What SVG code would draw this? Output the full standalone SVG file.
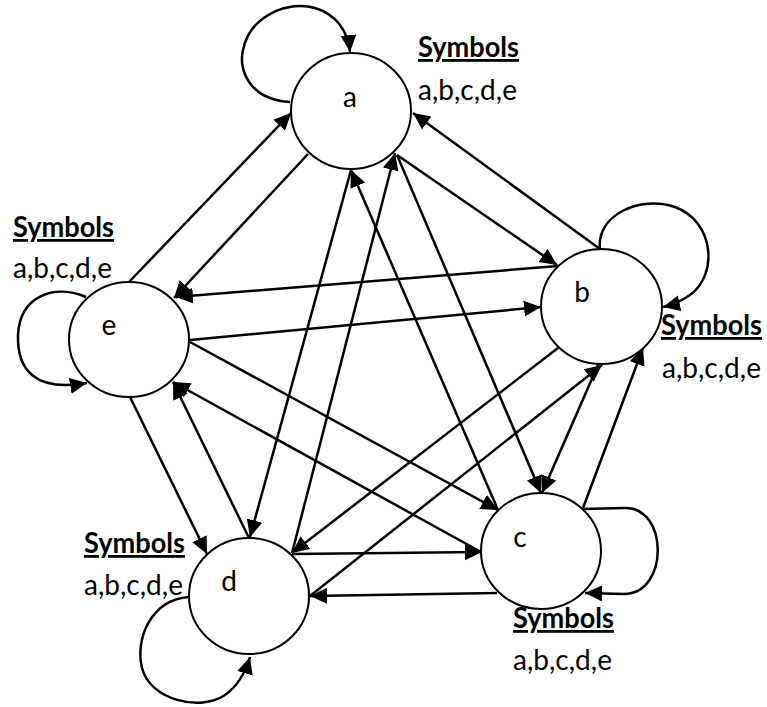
<svg xmlns="http://www.w3.org/2000/svg" width="767" height="707" viewBox="0 0 767 707">
<style>
.node{fill:#fff;stroke:#000;stroke-width:2}
.lbl{font-family:Lato,"Liberation Sans",sans-serif;font-size:28px;fill:#000;text-anchor:middle}
.sym{font-family:Lato,"Liberation Sans",sans-serif;font-size:28px;font-weight:bold;fill:#000;text-decoration:underline}
.set{font-family:Lato,"Liberation Sans",sans-serif;font-size:28px;fill:#000}
.edge{fill:none;stroke:#000;stroke-width:2.5;marker-end:url(#arr)}
</style>
<defs>
<marker id="arr" markerUnits="userSpaceOnUse" markerWidth="19" markerHeight="17" refX="17" refY="8" orient="auto">
<path d="M0,0 L17,8 L0,16 z" fill="#000"/>
</marker>
</defs>
<rect width="767" height="707" fill="#fff"/>
<g id="connectors">
<path class="edge" d="M397,155 L557,265"/>
<path class="edge" d="M600,249 L413,113"/>
<path class="edge" d="M397,155 L541,493"/>
<path class="edge" d="M498,510 L351,170"/>
<path class="edge" d="M351,170 L250,537"/>
<path class="edge" d="M292,553 L395,153"/>
<path class="edge" d="M308,154 L174,298"/>
<path class="edge" d="M129,282 L291,113"/>
<path class="edge" d="M598,365 L542,493"/>
<path class="edge" d="M583,508 L643,348"/>
<path class="edge" d="M558,348 L292,553"/>
<path class="edge" d="M310,596 L602,365"/>
<path class="edge" d="M558,266 L176,297"/>
<path class="edge" d="M190,340 L541,307"/>
<path class="edge" d="M497,593 L310,596"/>
<path class="edge" d="M292,554 L482,552"/>
<path class="edge" d="M481,552 L173,382"/>
<path class="edge" d="M190,342 L498,510"/>
<path class="edge" d="M249,538 L173,382"/>
<path class="edge" d="M130,397 L207,554"/>
<path class="edge" d="M290,102 C250,100 238,70 243,50 C250,15 290,0 315,8 C335,14 348,30 350,52"/>
<path class="edge" d="M600,249 C596,215 640,195 675,207 C715,222 718,275 690,295 C680,302 672,305 663,307"/>
<path class="edge" d="M583,509 L624,508 C669,506 669,594 624,594 L585,593"/>
<path class="edge" d="M189,597 C150,600 135,640 142,668 C150,700 200,712 225,695 C238,686 246,670 250,657"/>
<path class="edge" d="M86,297 C55,284 20,295 18,335 C17,370 35,392 87,383"/>
</g>
<g id="node-a">
<ellipse class="node" cx="351" cy="111" rx="60" ry="58"/>
<text class="lbl" x="350" y="107">a</text>
<text class="sym" x="418" y="57" textLength="101" lengthAdjust="spacingAndGlyphs">Symbols</text>
<text class="set" x="418" y="100" textLength="99" lengthAdjust="spacingAndGlyphs">a,b,c,d,e</text>
</g>
<g id="node-b">
<ellipse class="node" cx="601.5" cy="306.5" rx="60.5" ry="57.5"/>
<text class="lbl" x="582" y="302">b</text>
<text class="sym" x="661" y="335" textLength="101" lengthAdjust="spacingAndGlyphs">Symbols</text>
<text class="set" x="662" y="378" textLength="99" lengthAdjust="spacingAndGlyphs">a,b,c,d,e</text>
</g>
<g id="node-c">
<ellipse class="node" cx="541" cy="551" rx="60" ry="58"/>
<text class="lbl" x="520" y="547">c</text>
<text class="sym" x="513" y="628" textLength="101" lengthAdjust="spacingAndGlyphs">Symbols</text>
<text class="set" x="513" y="670" textLength="99" lengthAdjust="spacingAndGlyphs">a,b,c,d,e</text>
</g>
<g id="node-d">
<ellipse class="node" cx="249" cy="596" rx="60" ry="58"/>
<text class="lbl" x="229" y="591">d</text>
<text class="sym" x="84" y="553" textLength="101" lengthAdjust="spacingAndGlyphs">Symbols</text>
<text class="set" x="84" y="595" textLength="99" lengthAdjust="spacingAndGlyphs">a,b,c,d,e</text>
</g>
<g id="node-e">
<ellipse class="node" cx="129" cy="339.5" rx="60" ry="57.5"/>
<text class="lbl" x="109" y="335">e</text>
<text class="sym" x="13" y="237" textLength="101" lengthAdjust="spacingAndGlyphs">Symbols</text>
<text class="set" x="13" y="278" textLength="99" lengthAdjust="spacingAndGlyphs">a,b,c,d,e</text>
</g>
</svg>
